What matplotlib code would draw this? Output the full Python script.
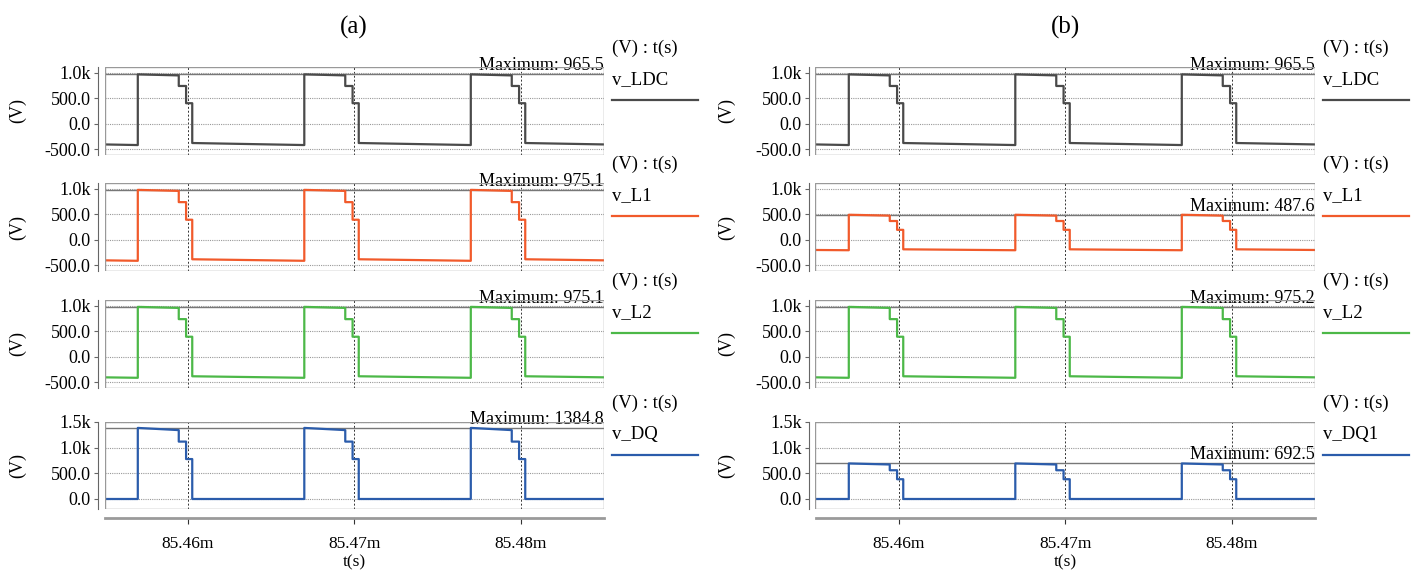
import numpy as np
import matplotlib.pyplot as plt
from matplotlib.patches import Rectangle
from matplotlib.lines import Line2D

plt.rcParams['font.family'] = ['Liberation Serif', 'DejaVu Serif']

# Zeitachse (ms)
t_start, t_end = 85.455, 85.485
rise = [85.4570, 85.4670, 85.4770]
step1 = [85.45946, 85.46946, 85.47946]
step2 = [85.45990, 85.46990, 85.47990]
fall = [85.46027, 85.47027, 85.48027]
tick_times = [85.46, 85.47, 85.48]
tick_labels = ['85.46m', '85.47m', '85.48m']

# Pegel: [hoch nach Anstieg, hoch vor Stufe, Stufe 1, Stufe 2, tief nach Abfall, tief vor Anstieg, Rand]
ldc_a = [965.5, 945.0, 738.0, 400.0, -380.0, -420.0, -408.0]
l1_a = [975.1, 955.0, 735.0, 390.0, -385.0, -415.0, -406.0]
l2_a = [975.1, 955.0, 735.0, 390.0, -385.0, -415.0, -406.0]
dq_a = [1384.8, 1342.0, 1118.0, 778.0, 0.0, 0.0, 0.0]

ldc_b = [965.5, 945.0, 738.0, 400.0, -380.0, -420.0, -408.0]
l1_b = [487.6, 470.0, 365.0, 192.0, -190.0, -208.0, -203.0]
l2_b = [975.2, 955.0, 735.0, 390.0, -385.0, -415.0, -406.0]
dq1_b = [692.5, 672.0, 560.0, 385.0, 0.0, 0.0, 0.0]

names_a = ['v_LDC', 'v_L1', 'v_L2', 'v_DQ']
names_b = ['v_LDC', 'v_L1', 'v_L2', 'v_DQ1']
max_a = ['965.5', '975.1', '975.1', '1384.8']
max_b = ['965.5', '487.6', '975.2', '692.5']
colors = ['#4a4a4a', '#f15a2b', '#4cb848', '#2b5cab']

v_ticks = [-500, 0, 500, 1000]
v_ticklabels = ['-500.0', '0.0', '500.0', '1.0k']
dq_ticks = [0, 500, 1000, 1500]
dq_ticklabels = ['0.0', '500.0', '1.0k', '1.5k']


def wave(lv):
    hi0, hi1, s1, s2, lo0, lo1, edge = lv
    t, v = [t_start], [edge]
    for k in range(len(rise)):
        t += [rise[k], rise[k], step1[k], step1[k], step2[k], step2[k], fall[k], fall[k]]
        v += [lo1, hi0, hi1, s1, s1, s2, s2, lo0]
    t.append(t_end)
    v.append(edge)
    return t, v


W, H = 1411, 570
fig = plt.figure(figsize=(W / 100, H / 100), dpi=100)

col_left = [104.5, 815.5]
col_w = 499.5
rows = [(67, 155), (183, 271), (300, 388), (422, 509)]
ylab_x = [18, 727]
title_x = [354, 1065]

columns = [
    ([ldc_a, l1_a, l2_a, dq_a], names_a, max_a, '(a)'),
    ([ldc_b, l1_b, l2_b, dq1_b], names_b, max_b, '(b)'),
]

for c, (levels, names, maxs, title) in enumerate(columns):
    left = col_left[c]
    fig.text(title_x[c] / W, 1 - 27 / H, title, ha='center', va='center', fontsize=18)
    fig.text((left + col_w / 2) / W, 1 - 562 / H, 't(s)', ha='center', va='center', fontsize=12.5)
    for r in range(4):
        top, bot = rows[r]
        ax = fig.add_axes([left / W, 1 - bot / H, col_w / W, (bot - top) / H])
        t, v = wave(levels[r])
        ax.plot(t, v, color=colors[r], lw=1.6, zorder=3)
        ax.set_xlim(t_start, t_end)
        if r < 3:
            ax.set_ylim(-615, 1110)
            ax.set_yticks(v_ticks)
            ax.set_yticklabels(v_ticklabels)
        else:
            ax.set_ylim(-195, 1500)
            ax.set_yticks(dq_ticks)
            ax.set_yticklabels(dq_ticklabels)
        ax.set_xticks(tick_times)

        # Maximum-Linie
        vmax = float(maxs[r])
        ax.axhline(vmax, color='#777777', lw=1.0, zorder=2)
        ax.text(1.0, vmax, 'Maximum: ' + maxs[r], transform=ax.get_yaxis_transform(),
                ha='right', va='bottom', fontsize=13)

        ax.yaxis.grid(True, ls=(0, (1, 1)), color='#999999', lw=0.8)
        ax.xaxis.grid(True, ls=(0, (2, 2)), color='#333333', lw=0.7)

        for s in ['top', 'right']:
            ax.spines[s].set_visible(False)
        ax.spines['left'].set_position(('outward', 5))
        ax.spines['left'].set_color('#666666')
        ax.add_patch(Rectangle((0, 0), 1, 1, transform=ax.transAxes, fill=False,
                               ec='#999999', lw=1.0, zorder=4))
        ax.tick_params(axis='y', length=3, width=0.8, color='#666666', labelsize=13, pad=2)

        if r < 3:
            ax.spines['bottom'].set_visible(False)
            ax.tick_params(axis='x', length=0, labelbottom=False)
        else:
            ax.spines['bottom'].set_position(('outward', 6.5))
            ax.spines['bottom'].set_color('#9a9a9a')
            ax.spines['bottom'].set_linewidth(2.0)
            ax.set_xticklabels(tick_labels)
            ax.tick_params(axis='x', length=4, width=0.8, color='#333333', labelsize=12.5, pad=9)

        fig.text(ylab_x[c] / W, 1 - (top + bot) / 2 / H, '(V)', rotation=90,
                 ha='center', va='center', fontsize=13)

        # Legende
        rx = left + col_w
        fig.text((rx + 8) / W, 1 - (top - 19) / H, '(V) : t(s)', ha='left', va='center', fontsize=13.5)
        fig.text((rx + 8) / W, 1 - (top + 13) / H, names[r], ha='left', va='center', fontsize=13.5)
        fig.add_artist(Line2D([(rx + 8) / W, (rx + 94) / W], [1 - (top + 33) / H] * 2,
                              color=colors[r], lw=1.6, transform=fig.transFigure))

fig.savefig('out.png', dpi=100)
